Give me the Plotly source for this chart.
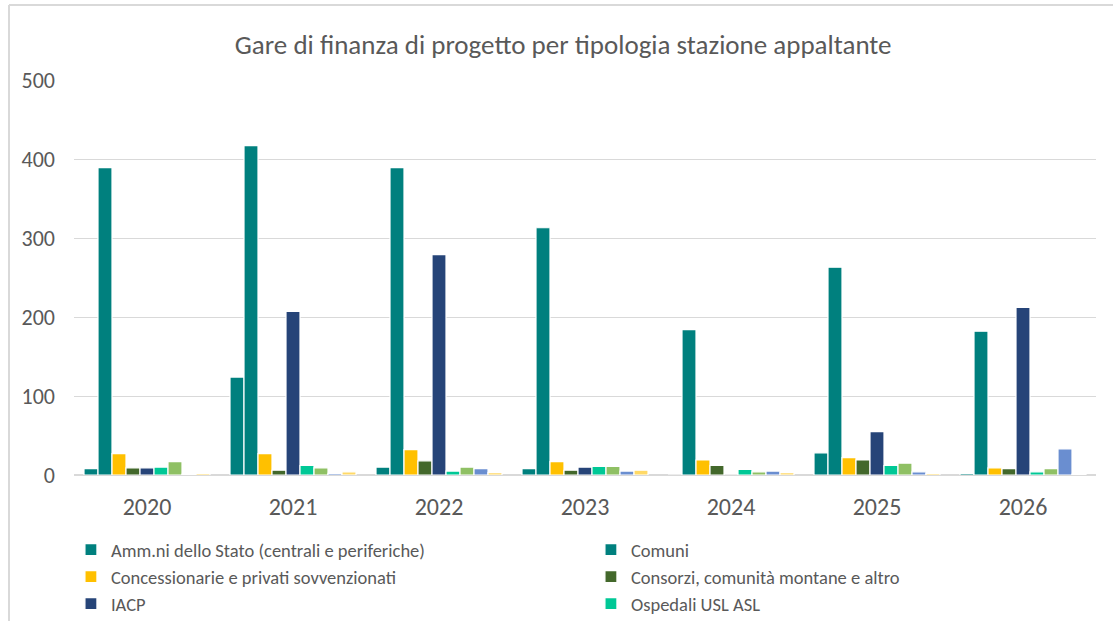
import plotly.graph_objects as go

years = ["2020", "2021", "2022", "2023", "2024", "2025", "2026"]

series_names = [
    "Amm.ni dello Stato (centrali e periferiche)",
    "Comuni",
    "Concessionarie e privati sovvenzionati",
    "Consorzi, comunità montane e altro",
    "IACP",
    "Ospedali USL ASL",
    "Province",
    "Regioni",
    "Università",
]

amm_stato = [8, 124, 10, 8, 0, 28, 2]
comuni = [389, 417, 389, 313, 184, 263, 182]
concessionarie = [27, 27, 32, 17, 19, 22, 9]
consorzi = [9, 6, 18, 6, 12, 19, 8]
iacp = [9, 207, 279, 10, 0, 55, 212]
ospedali = [10, 12, 5, 11, 7, 12, 4]
province = [17, 9, 10, 11, 4, 15, 8]
regioni = [1, 2, 8, 5, 5, 4, 33]
universita = [2, 4, 3, 6, 3, 2, 1]

series_values = [amm_stato, comuni, concessionarie, consorzi, iacp,
                 ospedali, province, regioni, universita]
colors = ["#00807E", "#00807E", "#FFC000", "#43682B", "#264478",
          "#00C896", "#8FC064", "#6A8ED0", "#FFD966"]
in_legend = [True, True, True, True, True, True, False, False, False]

FONT = "Carlito, Lato, sans-serif"
GREY = "#595959"

fig = go.Figure()
for name, vals, col, leg in zip(series_names, series_values, colors, in_legend):
    fig.add_trace(go.Bar(
        x=years, y=vals, name=name, showlegend=leg,
        marker=dict(color=col, line=dict(color="white", width=1.2)),
    ))

fig.update_layout(
    width=1113, height=621,
    barmode="group", bargap=0.137, bargroupgap=0,
    plot_bgcolor="white", paper_bgcolor="white",
    margin=dict(l=74, r=17, t=80, b=146, autoexpand=False),
    title=dict(text="Gare di finanza di progetto per tipologia stazione appaltante",
               x=0.506, xanchor="center", y=0.9275, yanchor="middle",
               font=dict(family=FONT, size=27, color=GREY)),
    font=dict(family=FONT, color=GREY),
    xaxis=dict(showline=False, showgrid=False, ticks="",
               tickfont=dict(size=24, color=GREY), ticklabelstandoff=15),
    yaxis=dict(range=[0, 500], dtick=100, showgrid=True, gridcolor="#D9D9D9",
               gridwidth=1, zeroline=True, zerolinecolor="#D9D9D9", zerolinewidth=2,
               tickfont=dict(size=22, color=GREY), ticklabelstandoff=18),
    legend=dict(orientation="h", x=-0.003, xanchor="left", y=-0.142, yanchor="top",
                entrywidth=475, entrywidthmode="pixels", itemwidth=30,
                font=dict(size=18.5, color=GREY), tracegroupgap=0,
                traceorder="normal"),
    shapes=[
        dict(type="line", xref="paper", yref="paper",
             x0=-0.0636, x1=1.02, y0=1.19, y1=1.19,
             line=dict(color="#D9D9D9", width=2)),
        dict(type="line", xref="paper", yref="paper",
             x0=-0.0636, x1=-0.0636, y0=1.19, y1=-0.4,
             line=dict(color="#D9D9D9", width=2)),
    ],
)

fig.write_html("out.html", config={"displayModeBar": False},
               post_script="document.body.style.margin='0';")
